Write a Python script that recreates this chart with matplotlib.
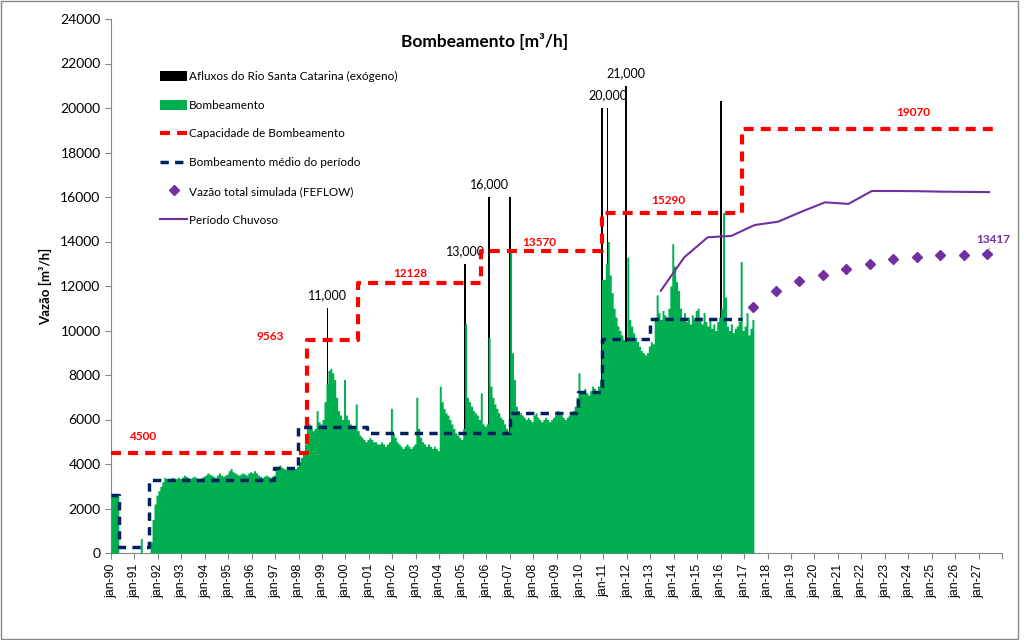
import matplotlib
matplotlib.use("Agg")
import matplotlib.pyplot as plt
from matplotlib.patches import Rectangle
import numpy as np

plt.rcParams['font.family'] = ['Lato', 'DejaVu Sans']

# monthly pumping (m3/h), jan-1990 .. may-2017, one row per year
pumping = [
    2600, 2600, 2650, 2550, 0, 0, 0, 0, 0, 0, 0, 0,                                   # 1990
    0, 0, 0, 650, 0, 0, 0, 0, 500, 1500, 2200, 2600,                                  # 1991
    2800, 3000, 3200, 3400, 3350, 3300, 3350, 3400, 3300, 3350, 3400, 3350,           # 1992
    3400, 3500, 3450, 3400, 3350, 3400, 3450, 3400, 3350, 3300, 3400, 3450,           # 1993
    3500, 3600, 3550, 3500, 3450, 3400, 3500, 3600, 3500, 3450, 3500, 3550,           # 1994
    3700, 3800, 3650, 3600, 3550, 3500, 3550, 3600, 3550, 3500, 3600, 3650,           # 1995
    3600, 3700, 3600, 3500, 3450, 3400, 3450, 3500, 3450, 3400, 3450, 3500,           # 1996
    3800, 3900, 3950, 3850, 3800, 3750, 3800, 3850, 3800, 3750, 3800, 3900,           # 1997
    4100, 4300, 4500, 4900, 5600, 5800, 5600, 5500, 5600, 6400, 5900, 5800,           # 1998
    6000, 6800, 7600, 8200, 8300, 8100, 7800, 7000, 6400, 6200, 6000, 7800,           # 1999
    6200, 6000, 5800, 5700, 5600, 6700, 5500, 5300, 5200, 5100, 5000, 5100,           # 2000
    5200, 5100, 5000, 5000, 4900, 4900, 5000, 4900, 4800, 4900, 5000, 6500,           # 2001
    5400, 5200, 5000, 4900, 4800, 4700, 4800, 4900, 4800, 4700, 4800, 4900,           # 2002
    7000, 5600, 5200, 5000, 4900, 4800, 4900, 4800, 4700, 4800, 4700, 4600,           # 2003
    7500, 6800, 6500, 6300, 6200, 6000, 5800, 5600, 5400, 5300, 5200, 5100,           # 2004
    5600, 10300, 7000, 6800, 6600, 6400, 6300, 6200, 6000, 7200, 5800, 5700,          # 2005
    5800, 9700, 7500, 7000, 6700, 6500, 6300, 6100, 6000, 5800, 5600, 5500,           # 2006
    13500, 9000, 7800, 6600, 6400, 6300, 6200, 6100, 6000, 6100, 6000, 5900,          # 2007
    6200, 6300, 6100, 6000, 5900, 6000, 6100, 6000, 5900, 6000, 6100, 6200,           # 2008
    6400, 6300, 6200, 6100, 6000, 6100, 6200, 6300, 6400, 6600, 7000, 8100,           # 2009
    7300, 7200, 7400, 7200, 7100, 7300, 7500, 7400, 7300, 7500, 7800, 12300,          # 2010
    12300, 13000, 14000, 12500, 11700, 11000, 10600, 10200, 10000, 9800, 9600, 9500,  # 2011
    13300, 10500, 10200, 9900, 9700, 9500, 9300, 9100, 9000, 8900, 9000, 9300,        # 2012
    9500, 9400, 10600, 11600, 10800, 10500, 10900, 10700, 10600, 11000, 12000, 13900, # 2013
    12900, 12200, 11800, 11000, 10600, 10800, 10400, 10600, 10300, 10700, 10500, 10900, # 2014
    11000, 10600, 10300, 10800, 10400, 10200, 10500, 10100, 10300, 10000, 10400, 10600,  # 2015
    11000, 15300, 11500, 10200, 10000, 10300, 9900, 10100, 10200, 10400, 13100, 10000,  # 2016
    10200, 10800, 9800, 10100, 10500,                                                    # 2017
]

# river inflow peaks (Afluxos do Rio Santa Catarina)
spike_dates = [1999.24, 2005.1, 2006.13, 2007.03, 2010.94, 2011.18, 2011.96, 2016.01]
spike_vals = [11000, 13000, 16000, 16000, 20000, 20000, 21000, 20300]
spike_labels = ['11,000', '13,000', '16,000', '', '', '20,000', '21,000', '']

# pumping capacity steps
cap_breaks = [1990.0, 1998.34, 2000.55, 2005.8, 2010.94, 2016.93, 2027.6]
cap_vals = [4500, 9563, 12128, 13570, 15290, 19070]

# mean pumping per period
mean_breaks = [1990.0, 1990.32, 1991.64, 1996.96, 1997.99, 2000.9, 2007.0, 2009.9, 2010.93, 2013.0, 2016.92]
mean_vals = [2600, 250, 3280, 3830, 5650, 5380, 6300, 7230, 9620, 10530]

# FEFLOW simulated total flow
sim_years = [2017, 2018, 2019, 2020, 2021, 2022, 2023, 2024, 2025, 2026, 2027]
sim_vals = [11070, 11780, 12220, 12490, 12760, 12990, 13200, 13320, 13380, 13400, 13417]

# rainy period
rain_years = list(range(2013, 2028))
rain_vals = [11790, 13290, 14190, 14250, 14740, 14890, 15340, 15760, 15690,
             16270, 16270, 16260, 16240, 16230, 16220]

RED = '#FF0000'
NAVY = '#002060'
GREEN = '#00B050'
PURPLE = '#7030A0'

fig = plt.figure(figsize=(10.24, 6.4), dpi=100)
ax = fig.add_axes([111 / 1024, 87 / 640, 891 / 1024, 534 / 640])

month_x = 1990 + np.arange(len(pumping) + 1) / 12.0
pump_ext = pumping + pumping[-1:]

h_afl = ax.bar(spike_dates, spike_vals, width=0.07, color='black', zorder=2,
               label='Afluxos do Rio Santa Catarina (exógeno)')
h_pump = ax.fill_between(month_x, pump_ext, step='post', color=GREEN, lw=0,
                         zorder=3, label='Bombeamento')

h_cap, = ax.plot(cap_breaks, cap_vals + cap_vals[-1:], drawstyle='steps-post', color=RED,
                 lw=3, dashes=(2.4, 1.7), zorder=5, label='Capacidade de Bombeamento')
h_mean, = ax.plot(mean_breaks, mean_vals + mean_vals[-1:], drawstyle='steps-post', color=NAVY,
                  lw=2.5, dashes=(2.4, 1.8), zorder=6, label='Bombeamento médio do período')
h_sim, = ax.plot(np.array(sim_years) + 0.36, sim_vals, 'D', color=PURPLE, ms=5.5, zorder=7,
                 label='Vazão total simulada (FEFLOW)')
h_rain, = ax.plot(np.array(rain_years) + 0.45, rain_vals, '-', color=PURPLE, lw=1.5, zorder=7,
                  label='Período Chuvoso')

# spike labels
for x, v, t in zip(spike_dates, spike_vals, spike_labels):
    if t:
        ax.annotate(t, (x, v), xytext=(0, 5), textcoords='offset points',
                    ha='center', va='bottom', fontsize=9, color='black')

# capacity labels
cap_label_pos = [(1991.34, 5258), (1996.8, 9708), (2002.76, 12584),
                 (2008.26, 13933), (2013.77, 15865), (2024.21, 19820)]
for (x, y), v in zip(cap_label_pos, cap_vals):
    ax.text(x, y, str(v), color=RED, fontsize=8.5, fontweight='bold',
            ha='center', va='center', zorder=8)

ax.annotate(str(sim_vals[-1]), (sim_years[-1] + 0.36, sim_vals[-1]),
            xytext=(2027.63, 14070), ha='center', va='center', fontsize=8.5,
            fontweight='bold', color=PURPLE,
            arrowprops=dict(arrowstyle='-', color='#999999', lw=0.8,
                            shrinkA=5, shrinkB=4))

ax.set_xlim(1990, 2028)
ax.set_ylim(0, 24000)
ax.set_yticks(range(0, 24001, 2000))
ax.tick_params(axis='y', labelsize=10, direction='out', length=4, color='#868686')
xt = list(range(1990, 2029))
ax.set_xticks(xt)
ax.set_xticklabels(['jan-%02d' % (y % 100) if y < 2028 else '' for y in xt],
                   rotation=90, fontsize=8.8, family='Liberation Sans')
ax.tick_params(axis='x', direction='out', length=4, color='#868686')
for s in ['top', 'right']:
    ax.spines[s].set_visible(False)
for s in ['left', 'bottom']:
    ax.spines[s].set_color('#868686')

ax.set_ylabel('Vazão [m³/h]', fontsize=9.5, fontweight='bold', labelpad=6)
fig.text(485 / 1024, 1 - 42 / 640, 'Bombeamento [m³/h]', fontsize=12.5,
         fontweight='bold', ha='center', va='center')

ax.legend([h_afl, h_pump, h_cap, h_mean, h_sim, h_rain],
          [h.get_label() for h in [h_afl, h_pump, h_cap, h_mean, h_sim, h_rain]],
          loc='upper left', bbox_to_anchor=(160 / 1024, 1 - 71 / 640),
          bbox_transform=fig.transFigure, frameon=False, fontsize=8.5,
          labelspacing=1.5, handlelength=2.3, handleheight=0.9, handletextpad=0.15,
          borderpad=0, borderaxespad=0)

fig.patches.append(Rectangle((0.0005, 0.001), 0.994, 0.997, transform=fig.transFigure,
                             fill=False, ec='#888888', lw=1))

fig.savefig('out.png', dpi=100)
